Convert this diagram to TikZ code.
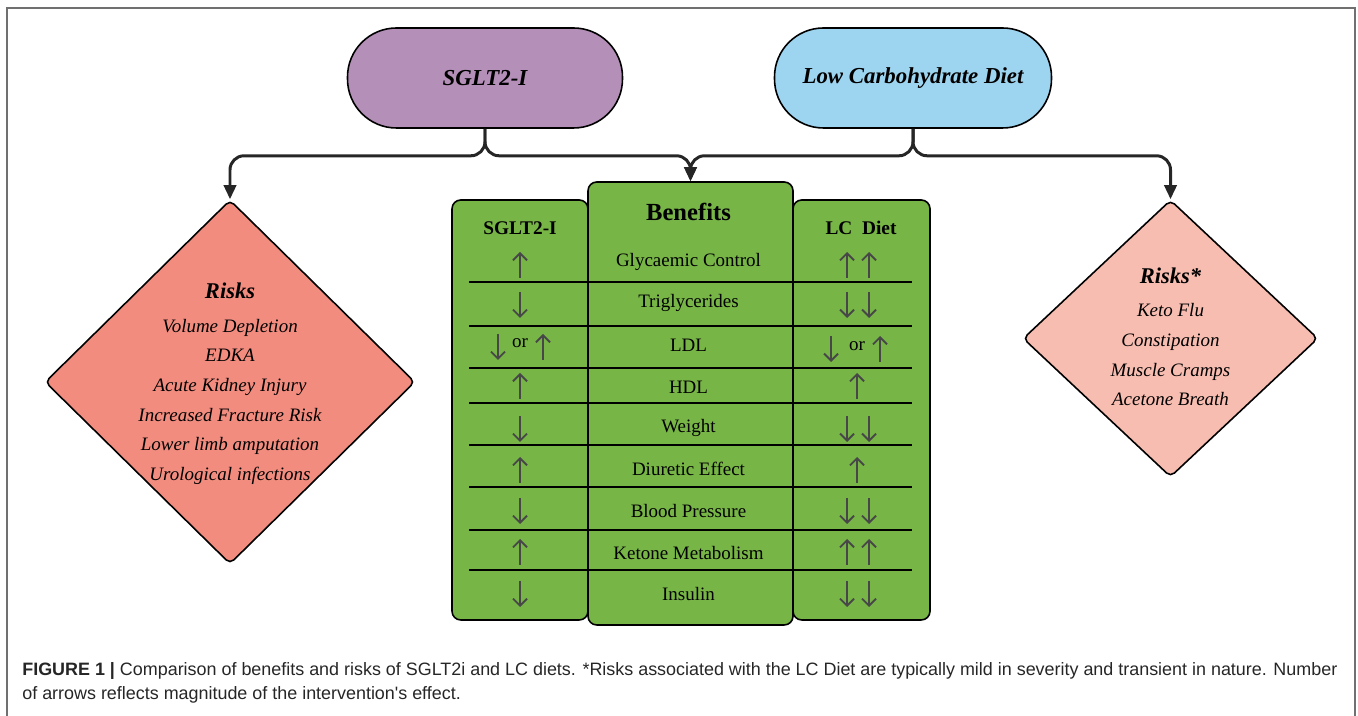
\documentclass[tikz,border=0pt]{standalone}
\usepackage{fontspec}
\setmainfont{Liberation Serif}
\newfontfamily\capfont{Liberation Sans}
\definecolor{sgltpurple}{HTML}{B48FB8}
\definecolor{lcblue}{HTML}{9DD4F0}
\definecolor{benegreen}{HTML}{78B547}
\definecolor{riskred}{HTML}{F28C7F}
\definecolor{riskpink}{HTML}{F8BDB1}
\definecolor{arrowgray}{HTML}{474747}
\definecolor{framegray}{HTML}{707070}
\usetikzlibrary{calc, positioning, shapes.geometric, arrows.meta}
\tikzset{
  terminal/.style={draw=black, line width=0.9pt, rounded corners=0.98cm, minimum width=5.5cm, minimum height=2cm, font=\fontsize{13}{15}\selectfont\bfseries\itshape},
  riskbox/.style={diamond, draw=black, line width=0.9pt, rounded corners=3pt, inner sep=0pt},
  risktext/.style={align=center, font=\fontsize{10.8}{16.9}\selectfont\itshape},
  column/.style={draw=black, line width=0.9pt, fill=benegreen, rounded corners=5pt, inner sep=0pt},
  conn/.style={draw=black!85, line width=1.7pt, rounded corners=8pt, -{Triangle[length=8pt,width=7pt]}},
  effect/.style={draw=arrowgray, line width=1.1pt, -{Straight Barb[length=4pt,width=8pt]}},
  rowtext/.style={font=\fontsize{10.8}{13}\selectfont},
  headtext/.style={font=\fontsize{11}{13}\selectfont\bfseries},
  upeff/.pic={\draw[effect] (0,-0.26) -- (0,0.26);},
  downeff/.pic={\draw[effect] (0,0.26) -- (0,-0.26);},
}

\begin{document}
\begin{tikzpicture}
\useasboundingbox (0,0) rectangle (27.16,14.32);
% figure frame
\draw[framegray, line width=0.8pt] (0.14,0) -- (0.14,14.16) -- (27.1,14.16) -- (27.1,0);

% the two interventions
\node[terminal, fill=sgltpurple] (sglt) at (9.70,12.76) {SGLT2-I};
\node[terminal, fill=lcblue, minimum width=5.54cm] (lcd) at (18.26,12.76) {Low Carbohydrate Diet};

% risk diamonds
\node[riskbox, fill=riskred, minimum width=7.4cm, minimum height=7.28cm] (lrisk) at (4.6,6.68) {};
\node[risktext] (ltext) at (4.6,6.64) {{\fontsize{12.8}{16.9}\selectfont\bfseries Risks}\\[2pt]
  Volume Depletion\\ EDKA\\ Acute Kidney Injury\\ Increased Fracture Risk\\
  Lower limb amputation\\ Urological infections};
\node[riskbox, fill=riskpink, minimum width=5.9cm, minimum height=5.54cm] (rrisk) at (23.41,7.55) {};
\node[risktext] (rtext) at (23.41,7.58) {{\fontsize{12.8}{16.9}\selectfont\bfseries Risks*}\\[2pt]
  Keto Flu\\ Constipation\\ Muscle Cramps\\ Acetone Breath};

% benefits table
\node[column, minimum width=2.72cm, minimum height=8.4cm] (scol) at (10.40,6.12) {};
\node[column, minimum width=2.74cm, minimum height=8.4cm] (lcol) at (17.23,6.12) {};
\node[column, minimum width=4.10cm, minimum height=8.86cm] (benefits) at (13.81,6.25) {};
\node[headtext] (shead) at (10.40,9.76) {SGLT2-I};
\node[font=\fontsize{14}{16}\selectfont\bfseries] (bhead) at (13.77,10.08) {Benefits};
\node[headtext] (lhead) at (17.22,9.76) {LC\ \ Diet};
\foreach \y in {8.68,7.80,6.96,6.26,5.42,4.58,3.72,2.92}
  \draw[line width=0.9pt] (9.38,\y) -- (18.24,\y);

\node[rowtext] (glyc) at (13.77,9.08) {Glycaemic Control};
\node[rowtext] (trig) at (13.77,8.26) {Triglycerides};
\node[rowtext] (ldl) at (13.77,7.42) {LDL};
\node[rowtext] (hdl) at (13.77,6.58) {HDL};
\node[rowtext] (weight) at (13.77,5.76) {Weight};
\node[rowtext] (diur) at (13.77,4.94) {Diuretic Effect};
\node[rowtext] (bp) at (13.77,4.10) {Blood Pressure};
\node[rowtext] (ket) at (13.77,3.26) {Ketone Metabolism};
\node[rowtext] (ins) at (13.77,2.44) {Insulin};

% SGLT2-I effects
\pic at (10.40,9.02) {upeff};
\pic at (10.40,8.22) {downeff};
\pic at (9.96,7.38) {downeff};
\node[rowtext] (sor) at (10.40,7.46) {or};
\pic at (10.86,7.38) {upeff};
\pic at (10.40,6.60) {upeff};
\pic at (10.40,5.74) {downeff};
\pic at (10.40,4.92) {upeff};
\pic at (10.40,4.10) {downeff};
\pic at (10.40,3.28) {upeff};
\pic at (10.40,2.44) {downeff};

% LC diet effects
\pic at (16.94,9.02) {upeff}; \pic at (17.38,9.02) {upeff};
\pic at (16.94,8.22) {downeff}; \pic at (17.38,8.22) {downeff};
\pic at (16.62,7.34) {downeff};
\node[rowtext] (lor) at (17.14,7.40) {or};
\pic at (17.60,7.34) {upeff};
\pic at (17.14,6.60) {upeff};
\pic at (16.94,5.74) {downeff}; \pic at (17.38,5.74) {downeff};
\pic at (17.14,4.92) {upeff};
\pic at (16.94,4.10) {downeff}; \pic at (17.38,4.10) {downeff};
\pic at (16.94,3.28) {upeff}; \pic at (17.38,3.28) {upeff};
\pic at (16.94,2.44) {downeff}; \pic at (17.38,2.44) {downeff};

% connectors
\draw[conn] (sglt.south) -- ++(0,-0.54) -| (lrisk.north);
\draw[conn] (sglt.south) -- ++(0,-0.54) -| (benefits.north);
\draw[conn] (lcd.south) -- ++(0,-0.54) -| (benefits.north);
\draw[conn] (lcd.south) -- ++(0,-0.54) -| (rrisk.north);

% caption
\node[anchor=base west, align=left, inner sep=0pt, font=\capfont\fontsize{10.2}{14.2}\selectfont, text=black!85] (caption) at (0.44,0.32)
  {\textbf{FIGURE 1 |} Comparison of benefits and risks of SGLT2i and LC diets. *Risks associated with the LC Diet are typically mild in severity and transient in nature. Number\\
   of arrows reflects magnitude of the intervention's effect.};
\end{tikzpicture}
\end{document}
